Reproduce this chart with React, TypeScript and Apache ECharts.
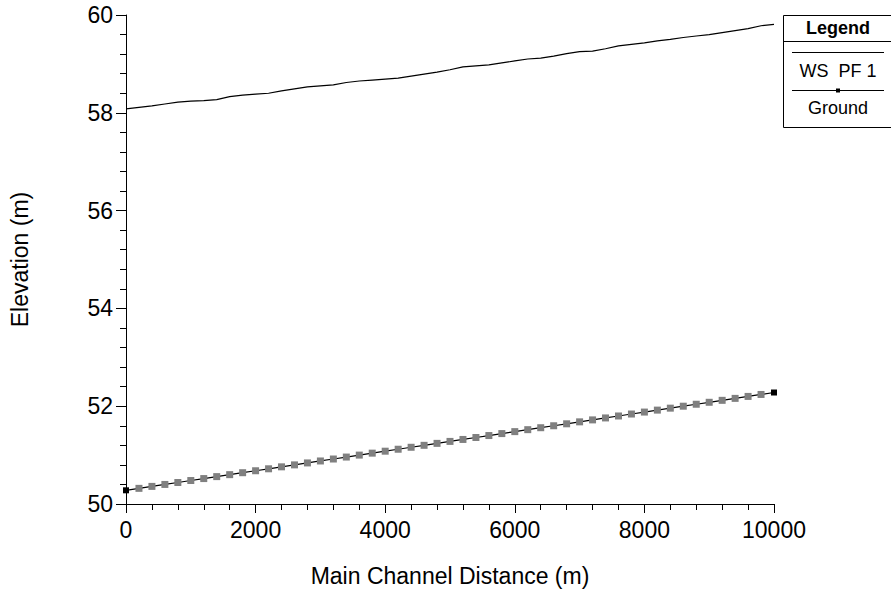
import React, { useEffect, useRef } from "react";
import * as echarts from "echarts";

const stations = [
  0, 200, 400, 600, 800, 1000, 1200, 1400, 1600, 1800,
  2000, 2200, 2400, 2600, 2800, 3000, 3200, 3400, 3600, 3800,
  4000, 4200, 4400, 4600, 4800, 5000, 5200, 5400, 5600, 5800,
  6000, 6200, 6400, 6600, 6800, 7000, 7200, 7400, 7600, 7800,
  8000, 8200, 8400, 8600, 8800, 9000, 9200, 9400, 9600, 9800, 10000,
];

const wsPF1 = [
  58.08, 58.11, 58.14, 58.18, 58.22, 58.24, 58.25, 58.27, 58.33, 58.36,
  58.38, 58.40, 58.45, 58.49, 58.53, 58.55, 58.57, 58.62, 58.65, 58.67,
  58.69, 58.71, 58.75, 58.79, 58.83, 58.88, 58.94, 58.96, 58.98, 59.02,
  59.06, 59.10, 59.12, 59.16, 59.21, 59.25, 59.26, 59.31, 59.37, 59.40,
  59.43, 59.47, 59.50, 59.54, 59.57, 59.60, 59.64, 59.68, 59.72, 59.78, 59.81,
];

const ground = [
  50.28, 50.32, 50.36, 50.40, 50.44, 50.48, 50.52, 50.56, 50.60, 50.64,
  50.68, 50.72, 50.76, 50.80, 50.84, 50.88, 50.92, 50.96, 51.00, 51.04,
  51.08, 51.12, 51.16, 51.20, 51.24, 51.28, 51.32, 51.36, 51.40, 51.44,
  51.48, 51.52, 51.56, 51.60, 51.64, 51.68, 51.72, 51.76, 51.80, 51.84,
  51.88, 51.92, 51.96, 52.00, 52.04, 52.08, 52.12, 52.16, 52.20, 52.24, 52.28,
];

const legendTitle = "Legend";
const seriesNames = ["WS  PF 1", "Ground"];
const xTitle = "Main Channel Distance (m)";
const yTitle = "Elevation (m)";

const FONT = "'Liberation Sans', Arial, sans-serif";

export default function App() {
  const ref = useRef<HTMLDivElement>(null);
  useEffect(() => {
    if (!ref.current) return;
    const chart = echarts.init(ref.current, null, { renderer: "svg" });
    const last = stations.length - 1;
    const groundData = stations.map((s, i) => {
      const end = i === 0 || i === last;
      return {
        value: [s, ground[i]],
        symbolSize: end ? 6 : 7,
        itemStyle: { color: end ? "#000000" : "#808080" },
      };
    });
    const wsData = stations.map((s, i) => [s, wsPF1[i]]);

    const lx = 783;
    const ly = 15;
    chart.setOption({
      animation: false,
      textStyle: { fontFamily: FONT },
      grid: { left: 125, right: 117, top: 15, bottom: 90, containLabel: false },
      xAxis: {
        type: "value",
        min: 0,
        max: 10000,
        interval: 2000,
        name: xTitle,
        nameLocation: "middle",
        nameGap: 60,
        nameTextStyle: { fontSize: 23, color: "#000", fontFamily: FONT },
        axisLine: { show: true, onZero: false, lineStyle: { color: "#000", width: 1 } },
        axisTick: { show: true, length: 9, lineStyle: { color: "#000" } },
        minorTick: { show: true, splitNumber: 5, length: 6, lineStyle: { color: "#000" } },
        splitLine: { show: false },
        axisLabel: {
          fontSize: 23,
          color: "#000",
          margin: 14,
          fontFamily: FONT,
          formatter: (v: number) => String(v),
        },
      },
      yAxis: {
        type: "value",
        min: 50,
        max: 60,
        interval: 2,
        name: yTitle,
        nameLocation: "middle",
        nameRotate: 90,
        nameGap: 95,
        nameTextStyle: { fontSize: 23, color: "#000", fontFamily: FONT },
        axisLine: { show: true, onZero: false, lineStyle: { color: "#000", width: 1 } },
        axisTick: { show: true, length: 10, lineStyle: { color: "#000" } },
        minorTick: { show: true, splitNumber: 5, length: 6, lineStyle: { color: "#000" } },
        splitLine: { show: false },
        axisLabel: {
          fontSize: 23,
          color: "#000",
          margin: 13,
          fontFamily: FONT,
          formatter: (v: number) => String(v),
        },
      },
      series: [
        {
          name: seriesNames[0],
          type: "line",
          data: wsData,
          showSymbol: false,
          symbol: "none",
          lineStyle: { color: "#000", width: 1.2 },
          z: 2,
        },
        {
          name: seriesNames[1],
          type: "line",
          data: groundData,
          symbol: "rect",
          showSymbol: true,
          showAllSymbol: true,
          lineStyle: { color: "#000", width: 1.2 },
          z: 3,
        },
      ],
      graphic: [
        {
          type: "rect",
          shape: { x: lx + 0.5, y: ly + 0.5, width: 130, height: 112 },
          style: { fill: "#fff", stroke: "#000", lineWidth: 1 },
          z: 10,
        },
        {
          type: "line",
          shape: { x1: lx, y1: 41.5, x2: 900, y2: 41.5 },
          style: { stroke: "#000", lineWidth: 1 },
          z: 11,
        },
        {
          type: "text",
          x: 838,
          y: 28,
          style: {
            text: legendTitle,
            fontSize: 18,
            fontWeight: "bold",
            fontFamily: FONT,
            fill: "#000",
            align: "center",
            verticalAlign: "middle",
          },
          z: 11,
        },
        {
          type: "line",
          shape: { x1: 792, y1: 52.5, x2: 884, y2: 52.5 },
          style: { stroke: "#000", lineWidth: 1 },
          z: 11,
        },
        {
          type: "text",
          x: 838,
          y: 71,
          style: {
            text: seriesNames[0],
            fontSize: 18,
            fontFamily: FONT,
            fill: "#000",
            align: "center",
            verticalAlign: "middle",
          },
          z: 11,
        },
        {
          type: "line",
          shape: { x1: 792, y1: 90.5, x2: 884, y2: 90.5 },
          style: { stroke: "#000", lineWidth: 1 },
          z: 11,
        },
        {
          type: "rect",
          shape: { x: 836, y: 88.5, width: 4, height: 4 },
          style: { fill: "#000" },
          z: 12,
        },
        {
          type: "text",
          x: 838,
          y: 108,
          style: {
            text: seriesNames[1],
            fontSize: 18,
            fontFamily: FONT,
            fill: "#000",
            align: "center",
            verticalAlign: "middle",
          },
          z: 11,
        },
      ],
    });
    return () => chart.dispose();
  }, []);
  return <div ref={ref} style={{ width: 891, height: 594, position: "absolute", left: 0, top: 0 }} />;
}
